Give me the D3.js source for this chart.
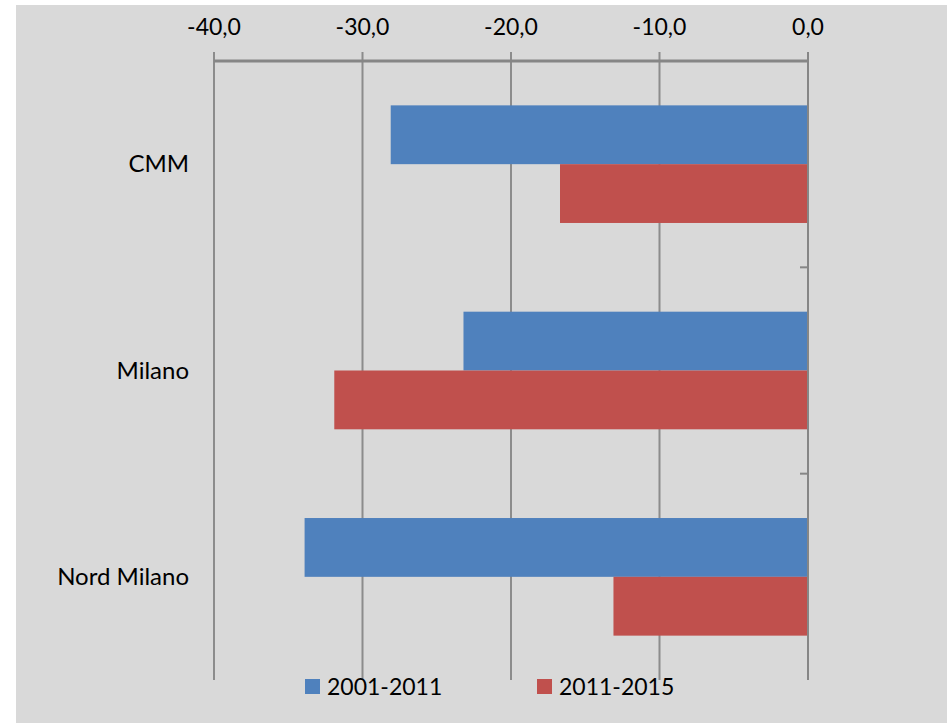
<!DOCTYPE html>
<html>
<head>
<meta charset="utf-8">
<script src="https://cdn.jsdelivr.net/npm/d3@7"></script>
<style>
  body { margin: 0; background: #fff; }
  text { font-family: Lato, "Open Sans", sans-serif; fill: #000; }
</style>
</head>
<body>
<div id="chart"></div>
<script>
const categories = ["CMM", "Milano", "Nord Milano"];
const seriesNames = ["2001-2011", "2011-2015"];
const values2001_2011 = [-28.1, -23.2, -33.9];
const values2011_2015 = [-16.7, -31.9, -13.1];
const xTicks = [-40, -30, -20, -10, 0];
const colors = ["#4f81bd", "#c0504d"];

const W = 950, H = 723;
const margin = {top: 61, right: 142, bottom: 43, left: 214};
const width = W - margin.left - margin.right,
    height = H - margin.top - margin.bottom;

const svg = d3.select("#chart")
  .append("svg")
    .attr("width", W)
    .attr("height", H);

svg.append("rect")
  .attr("x", 16).attr("y", 5)
  .attr("width", W - 19).attr("height", H - 5)
  .attr("fill", "#d9d9d9");

const g = svg.append("g")
  .attr("transform", `translate(${margin.left},${margin.top})`);

const x = d3.scaleLinear()
  .domain([-40, 0])
  .range([0, width]);

const y = d3.scaleBand()
  .domain(categories)
  .range([0, height])
  .paddingInner(0.43)
  .paddingOuter(0.215);

const yOuter = d3.scaleBand()
  .domain(categories)
  .range([0, height]);

// vertical gridlines
g.selectAll(".grid")
  .data(xTicks)
  .join("line")
    .attr("x1", d => x(d)).attr("x2", d => x(d))
    .attr("y1", -9).attr("y2", height)
    .attr("stroke", "#8c8c8c")
    .attr("stroke-width", 2);

// top axis labels
g.selectAll(".xlab")
  .data(xTicks)
  .join("text")
    .attr("x", d => x(d))
    .attr("y", -26)
    .attr("text-anchor", "middle")
    .attr("font-size", 23)
    .text(d => d3.format(".1f")(d).replace(".", ",").replace("−", "-"));

// top axis line
g.append("line")
  .attr("x1", 0).attr("x2", width)
  .attr("y1", 0).attr("y2", 0)
  .attr("stroke", "#868686")
  .attr("stroke-width", 3);

// bars
const series = [values2001_2011, values2011_2015];
const sub = d3.scaleBand()
  .domain([0, 1])
  .range([0, y.bandwidth()]);

series.forEach(function(vals, si) {
  g.selectAll(".bar" + si)
    .data(categories)
    .join("rect")
      .attr("x", (d, i) => x(vals[i]))
      .attr("width", (d, i) => x(0) - x(vals[i]))
      .attr("y", d => y(d) + sub(si))
      .attr("height", sub.bandwidth())
      .attr("fill", colors[si]);
});

// right category axis
g.append("line")
  .attr("x1", x(0)).attr("x2", x(0))
  .attr("y1", -9).attr("y2", height)
  .attr("stroke", "#868686")
  .attr("stroke-width", 2);

g.selectAll(".ytick")
  .data(categories.slice(1))
  .join("line")
    .attr("x1", x(0) - 8).attr("x2", x(0))
    .attr("y1", d => yOuter(d)).attr("y2", d => yOuter(d))
    .attr("stroke", "#868686")
    .attr("stroke-width", 2);

// category labels
g.selectAll(".ylab")
  .data(categories)
  .join("text")
    .attr("x", -25)
    .attr("y", d => yOuter(d) + yOuter.bandwidth() / 2 + 8)
    .attr("text-anchor", "end")
    .attr("font-size", 24)
    .text(d => d);

// legend
const legendX = [305, 537];
seriesNames.forEach(function(name, i) {
  svg.append("rect")
    .attr("x", legendX[i]).attr("y", 679)
    .attr("width", 15).attr("height", 15)
    .attr("fill", colors[i]);
  svg.append("text")
    .attr("x", legendX[i] + 22).attr("y", 695)
    .attr("font-size", 23)
    .text(name);
});
</script>
</body>
</html>
